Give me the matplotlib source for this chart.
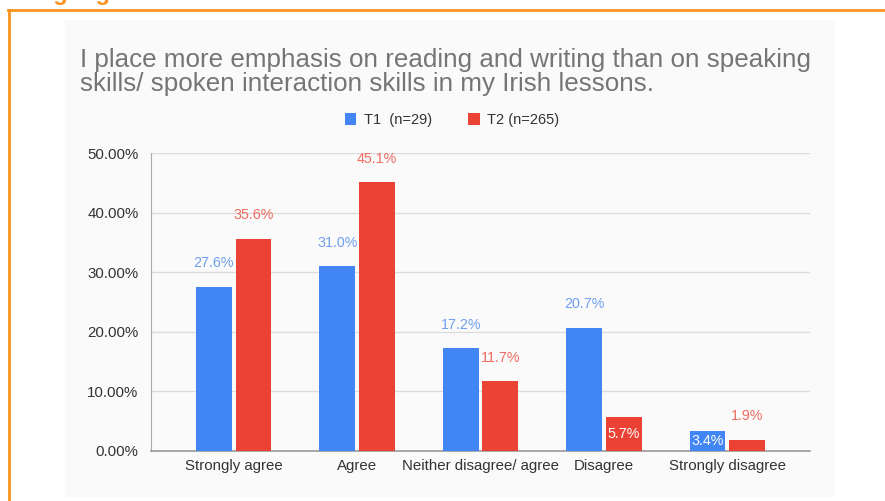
import numpy as np
import matplotlib
matplotlib.use("Agg")
import matplotlib.pyplot as plt
from matplotlib.patches import Rectangle, Patch

categories = ["Strongly agree", "Agree", "Neither disagree/ agree", "Disagree", "Strongly disagree"]
t1_values = [27.6, 31.0, 17.2, 20.7, 3.4]
t2_values = [35.6, 45.1, 11.7, 5.7, 1.9]
series_names = ["T1  (n=29)", "T2 (n=265)"]
y_ticks = [0, 10, 20, 30, 40, 50]
title = ("I place more emphasis on reading and writing than on speaking\n"
         "skills/ spoken interaction skills in my Irish lessons.")

BLUE = "#4285F4"
RED = "#EA4335"
BLUE_TXT = "#6f9ff2"
RED_TXT = "#ef6b60"
ORANGE = "#F7931E"

plt.rcParams["font.family"] = ["Liberation Sans", "DejaVu Sans"]

fig = plt.figure(figsize=(8.85, 5.01), dpi=100)
W, H = 885, 501

def px(x, y):
    return x / W, 1 - y / H

# page decoration: orange frame, cropped heading above it, light chart background
fig.patches.append(Rectangle(px(65, 497), 770 / W, 477 / H, transform=fig.transFigure,
                             facecolor="#fafafa", edgecolor="none", zorder=-5))
fig.lines.append(plt.Line2D([8 / W, 1], [1 - 10 / H] * 2, transform=fig.transFigure,
                            color=ORANGE, lw=2))
fig.lines.append(plt.Line2D([9 / W, 9 / W], [0, 1 - 10 / H], transform=fig.transFigure,
                            color=ORANGE, lw=2))
fig.text(11 / W, 1 + 0.5 / H, "Language", color=ORANGE, fontsize=17, fontweight="bold",
         va="baseline", ha="left")

ax = fig.add_axes([151 / W, 50 / H, 659 / W, 298 / H])
ax.set_facecolor("none")

x = np.arange(len(categories))
w = 0.29
gap = 0.016
b1 = ax.bar(x - w / 2 - gap, t1_values, w, color=BLUE, zorder=3)
b2 = ax.bar(x + w / 2 + gap, t2_values, w, color=RED, zorder=3)

for bars, vals, c in [(b1, t1_values, BLUE_TXT), (b2, t2_values, RED_TXT)]:
    for bar, v in zip(bars, vals):
        cx = bar.get_x() + bar.get_width() / 2
        inside = v < 8 and v > 3
        if inside:
            ax.text(cx, v / 2, f"{v:.1f}%", ha="center", va="center", color="white",
                    fontsize=10.3, zorder=4)
        else:
            ax.annotate(f"{v:.1f}%", (cx, v), xytext=(0, 17), textcoords="offset points",
                        ha="center", va="center", color=c, fontsize=10.3, zorder=4)

ax.set_xlim(-0.67, len(categories) - 1 + 0.67)
ax.set_ylim(0, 50)
ax.set_yticks(y_ticks)
ax.set_yticklabels([f"{t:.2f}%" for t in y_ticks])
ax.set_xticks(x)
ax.set_xticklabels(categories)
ax.tick_params(axis="both", length=0, labelsize=10.8, colors="#333333")
ax.tick_params(axis="y", pad=9)
ax.tick_params(axis="x", pad=6)
ax.grid(axis="y", color="#dcdcdc", lw=1, zorder=0)
for s in ["top", "right"]:
    ax.spines[s].set_visible(False)
ax.spines["left"].set_color("#aaaaaa")
ax.spines["bottom"].set_color("#999999")
ax.spines["bottom"].set_linewidth(1.2)

fig.text(80 / W, 1 - 72 / H, title, color="#757575", fontsize=18.7, ha="left",
         va="center", linespacing=0.95)

handles = [Patch(facecolor=BLUE), Patch(facecolor=RED)]
fig.legend(handles, series_names, loc="center", bbox_to_anchor=(452 / W, 1 - 120 / H),
           ncol=2, frameon=False, fontsize=10.5, handlelength=0.8, handleheight=0.8,
           handletextpad=0.5, columnspacing=2.5, labelcolor="#333333")

fig.savefig("out.png", dpi=100)
